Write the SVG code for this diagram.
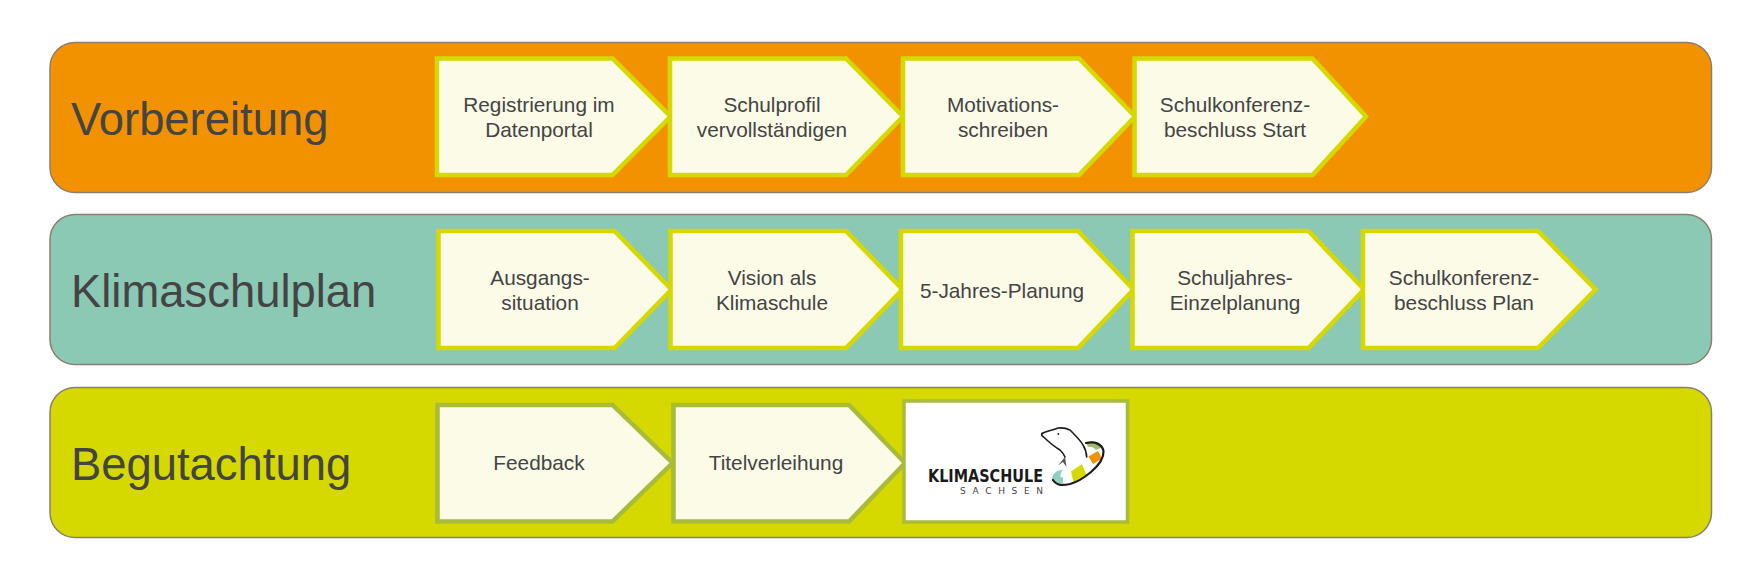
<svg xmlns="http://www.w3.org/2000/svg" width="1760" height="583" viewBox="0 0 1760 583">
<style>
text{font-family:"Liberation Sans",Arial,sans-serif;fill:#444}
.band{stroke:#8a7f6e;stroke-width:1.500}
.title{font-size:45.400px}
.lbl{font-size:20.800px;text-anchor:middle}
.p{fill:#fbfbe8;stroke:#d6d900;stroke-width:4.500;stroke-linejoin:miter}
.q{fill:#fbfbe8;stroke:#a9bb38;stroke-width:4.500;stroke-linejoin:miter}
.lk{fill:none;stroke:#1c1c1c;stroke-width:1.600;stroke-linecap:round;stroke-linejoin:round}
</style>
<rect width="1760" height="583" fill="#fff"/>
<g id="band-vorbereitung"><rect class="band" x="50" y="42.500" width="1661.500" height="150" rx="25" fill="#f39200"/><text class="title" x="71" y="135">Vorbereitung</text></g>
<g id="band-klimaschulplan"><rect class="band" x="50" y="214.500" width="1661.500" height="150" rx="25" fill="#8bc9b5"/><text class="title" x="71" y="307">Klimaschulplan</text></g>
<g id="band-begutachtung"><rect class="band" x="50" y="387.500" width="1661.500" height="150" rx="25" fill="#d5d900"/><text class="title" x="71" y="480">Begutachtung</text></g>
<g id="n1"><polygon class="p" points="437,58.500 612.500,58.500 670.500,116.500 612.500,175 437,175"/><text class="lbl" x="539" y="112">Registrierung im</text><text class="lbl" x="539" y="137">Datenportal</text></g>
<g id="n2"><polygon class="p" points="670,58.500 846,58.500 903,116.500 846,175 670,175"/><text class="lbl" x="772" y="112">Schulprofil</text><text class="lbl" x="772" y="137">vervollständigen</text></g>
<g id="n3"><polygon class="p" points="903,58.500 1079,58.500 1135,116.500 1079,175 903,175"/><text class="lbl" x="1003" y="112">Motivations-</text><text class="lbl" x="1003" y="137">schreiben</text></g>
<g id="n4"><polygon class="p" points="1134.500,58.500 1312.500,58.500 1366,116.500 1312.500,175 1134.500,175"/><text class="lbl" x="1235" y="112">Schulkonferenz-</text><text class="lbl" x="1235" y="137">beschluss Start</text></g>
<g id="n5"><polygon class="p" points="438.500,231 614.500,231 671.500,289.500 614.500,348 438.500,348"/><text class="lbl" x="540" y="285">Ausgangs-</text><text class="lbl" x="540" y="310">situation</text></g>
<g id="n6"><polygon class="p" points="670.500,231 846,231 902.500,289.500 846,348 670.500,348"/><text class="lbl" x="772" y="285">Vision als</text><text class="lbl" x="772" y="310">Klimaschule</text></g>
<g id="n7"><polygon class="p" points="901,231 1078,231 1133.500,289.500 1078,348 901,348"/><text class="lbl" x="1002" y="298">5-Jahres-Planung</text></g>
<g id="n8"><polygon class="p" points="1132.500,231 1308.500,231 1364,289.500 1308.500,348 1132.500,348"/><text class="lbl" x="1235" y="285">Schuljahres-</text><text class="lbl" x="1235" y="310">Einzelplanung</text></g>
<g id="n9"><polygon class="p" points="1363,231 1538,231 1595.500,289.500 1538,348 1363,348"/><text class="lbl" x="1464" y="285">Schulkonferenz-</text><text class="lbl" x="1464" y="310">beschluss Plan</text></g>
<g id="n10"><polygon class="q" points="437.500,405 612.500,405 672.500,463 612.500,521.500 437.500,521.500"/><text class="lbl" x="539" y="470">Feedback</text></g>
<g id="n11"><polygon class="q" points="673.500,405 849,405 905,463 849,521.500 673.500,521.500"/><text class="lbl" x="776" y="470">Titelverleihung</text></g>
<g id="n12"><rect x="904" y="401" width="223.500" height="121" fill="#fff" stroke="#a9bb38" stroke-width="3.500"/>
<text x="928" y="481.500" style="font-family:'DejaVu Sans',sans-serif;font-weight:700;fill:#1a1a1a;font-size:18.500px" textLength="115" lengthAdjust="spacingAndGlyphs">KLIMASCHULE</text>
<text x="960" y="494" style="font-family:'DejaVu Sans',sans-serif;fill:#444;font-size:9px" textLength="83">SACHSEN</text>
<path d="M1063 470C1056 470 1051 475 1052.500 480C1055 483 1059 484 1063 483L1063 477C1060 478 1059 475 1063 470Z" fill="#8fd0c0"/>
<path d="M1071 471.500L1082 464L1087 476L1073.500 482Z" fill="#d5d900"/>
<path d="M1088.500 456.500L1098 451L1102 458.500L1093 464Z" fill="#f39200"/>
<path d="M1086 443C1092 440 1099 442 1102.500 447L1096 450C1094 447 1090 446 1088 447Z" fill="#9dbb6a"/>
<path d="M1065 457L1058 465.500L1063 462L1066.500 467Z" fill="#555"/>
<circle cx="1058.300" cy="434" r="0.900" fill="#1c1c1c"/>
<path class="lk" d="M1042 433.500C1047 431 1052 430.500 1058 428C1063 427.500 1067 428.500 1070 430C1075 435 1081 441 1083 445C1085.500 449 1086.500 453 1086.700 457"/>
<path class="lk" d="M1042 433.500C1041 435 1042 436 1043.500 437C1048 441 1053 446 1060 450C1062 452 1064 454 1065 457"/>
<path class="lk" style="stroke-width:2.200" d="M1053 480C1057 486 1063 485.500 1070 484C1078 482 1085 477 1091 472C1098 466 1104 459 1103.500 451C1102 444 1095 441 1086 443"/>
</g>
</svg>
